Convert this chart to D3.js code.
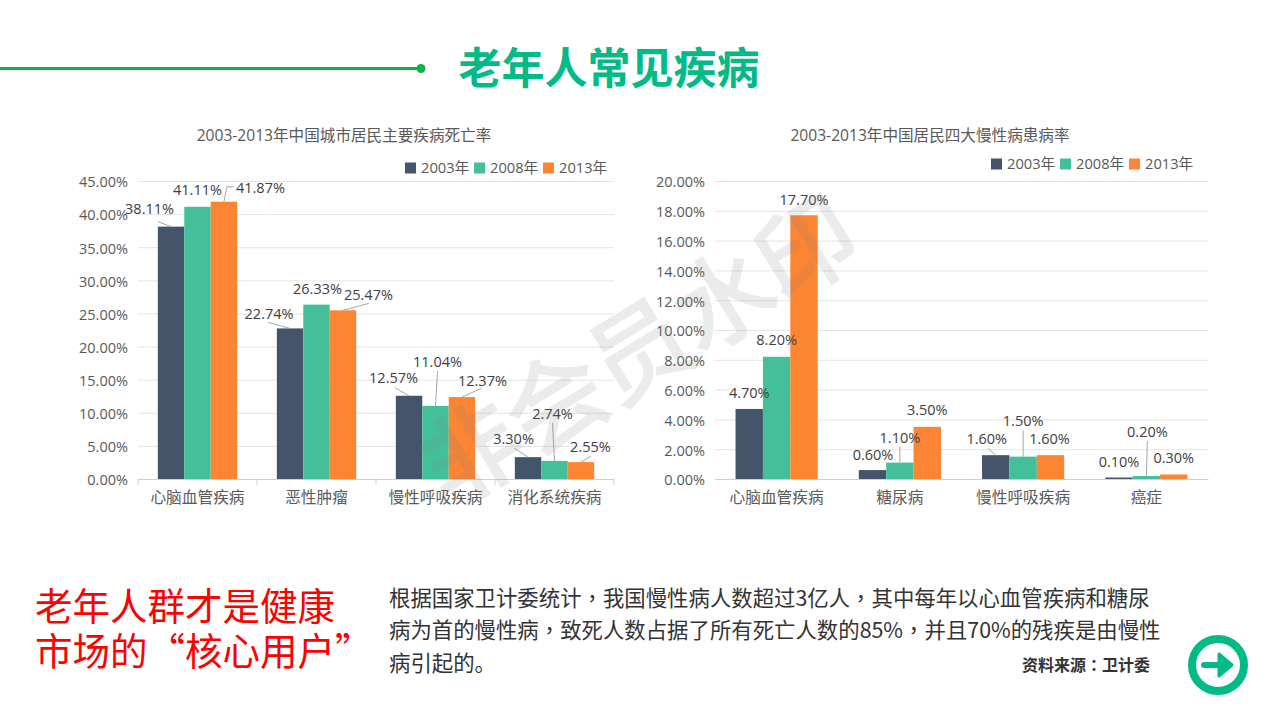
<!DOCTYPE html>
<html>
<head>
<meta charset="utf-8">
<script src="https://cdn.jsdelivr.net/npm/d3@7"></script>
<style>
html, body { margin: 0; padding: 0; background: #fff; }
svg { display: block; }
text { font-family: 'Open Sans', 'Noto Sans CJK SC', sans-serif; }
</style>
</head>
<body>
<div id="chart"></div>
<script>
const w = 1280;
const h = 720;

const years = ['2003年', '2008年', '2013年'];
const colors = ['#44546a', '#43c09a', '#fb8533'];

const deathCategories = ['心脑血管疾病', '恶性肿瘤', '慢性呼吸疾病', '消化系统疾病'];
const death2003 = [38.11, 22.74, 12.57, 3.30];
const death2008 = [41.11, 26.33, 11.04, 2.74];
const death2013 = [41.87, 25.47, 12.37, 2.55];
const deathTicks = [0, 5, 10, 15, 20, 25, 30, 35, 40, 45];

const illCategories = ['心脑血管疾病', '糖尿病', '慢性呼吸疾病', '癌症'];
const ill2003 = [4.70, 0.60, 1.60, 0.10];
const ill2008 = [8.20, 1.10, 1.50, 0.20];
const ill2013 = [17.70, 3.50, 1.60, 0.30];
const illTicks = [0, 2, 4, 6, 8, 10, 12, 14, 16, 18, 20];

// label offsets from the top centre of each bar, one row per year
const deathLabelPos = [
	[[-21.5, -18.6], [-21, -15.4], [-15.5, -18], [-14.5, -19]],
	[[0, -17], [1, -16.6], [2, -44], [-2, -47]],
	[[36.5, -14], [25.5, -16], [20.5, -17], [9.5, -16]],
];
const deathLeaders = [
	[[[-13, -5]], [[-22, -6]], [[-14, -8]], [[-14, -9]]],
	[null, null, [[2, -35]], [[-2, -38]]],
	[[[3, -15], [10, -15]], [[26, -7]], [[20, -9]], [[10, -6]]],
];
const illLabelPos = [
	[[0, -16], [0.5, -16], [-9, -17], [0, -16.5]],
	[[0, -17], [0, -25], [0, -36], [1, -45]],
	[[0, -16], [0, -17], [-1, -17], [0, -17.5]],
];
const illLeaders = [
	[null, null, [[-8, -7]], null],
	[null, [[0, -16]], [[0, -26]], [[1, -35]]],
	[null, null, null, null],
];

const svg = d3
	.select('#chart')
	.append('svg')
	.attr('width', w)
	.attr('height', h)
	.attr('viewBox', `0 0 ${w} ${h}`);

function drawChart(opt) {
	const x = d3.scaleBand().domain(opt.categories).range([opt.left, opt.right]);
	const y = d3.scaleLinear().domain([0, opt.max]).range([479, 181]);
	const barWidth = x.bandwidth() / 4.5;
	const x1 = d3
		.scaleBand()
		.domain(d3.range(3))
		.range([x.bandwidth() / 2 - barWidth * 1.5, x.bandwidth() / 2 + barWidth * 1.5]);

	svg
		.append('text')
		.attr('x', opt.titleX)
		.attr('y', 135.5)
		.attr('dy', '0.35em')
		.attr('text-anchor', 'middle')
		.style('font-size', '15.6px')
		.attr('fill', '#595959')
		.text(opt.title);

	const yAxis = d3
		.axisLeft(y)
		.tickValues(opt.ticks)
		.tickSize(opt.left - opt.right)
		.tickPadding(10)
		.tickFormat(d => d.toFixed(2) + '%');

	const yG = svg.append('g').attr('transform', `translate(${opt.left},0)`).call(yAxis);
	yG.select('.domain').remove();
	yG.selectAll('line').attr('stroke', '#e4e4e4');
	yG.selectAll('text').attr('fill', '#595959').attr('dy', '0.4em').style('font-size', '14.5px');

	const xAxis = d3.axisBottom(x).tickSize(0).tickPadding(13);
	const xG = svg.append('g').attr('transform', 'translate(0,479)').call(xAxis);
	xG.select('.domain').attr('stroke', '#d0d0d0');
	xG.selectAll('text')
		.attr('fill', '#595959')
		.style('font-size', '15.7px')
		.style('font-family', "'Noto Sans CJK SC', sans-serif");

	if (opt.edgeTicks) {
		svg
			.append('g')
			.selectAll('line')
			.data(d3.range(5))
			.enter()
			.append('line')
			.attr('x1', i => opt.left + x.step() * i)
			.attr('x2', i => opt.left + x.step() * i)
			.attr('y1', 479)
			.attr('y2', 485)
			.attr('stroke', '#d0d0d0');
	}

	opt.series.forEach((values, s) => {
		svg
			.append('g')
			.selectAll('rect')
			.data(values)
			.enter()
			.append('rect')
			.attr('x', (d, i) => x(opt.categories[i]) + x1(s))
			.attr('y', d => y(d))
			.attr('width', x1.bandwidth())
			.attr('height', d => y(0) - y(d))
			.attr('fill', colors[s]);
	});

	opt.series.forEach((values, s) => {
		values.forEach((d, i) => {
			const cx = x(opt.categories[i]) + x1(s) + x1.bandwidth() / 2;
			const cy = y(d);
			const leader = opt.leaders[s][i];
			if (leader) {
				const pts = [[cx, cy]].concat(leader.map(p => [cx + p[0], cy + p[1]]));
				svg
					.append('path')
					.attr('d', d3.line()(pts))
					.attr('fill', 'none')
					.attr('stroke', '#a6a6a6');
			}
			svg
				.append('text')
				.attr('x', cx + opt.labelPos[s][i][0])
				.attr('y', cy + opt.labelPos[s][i][1])
				.attr('dy', '0.38em')
				.attr('text-anchor', 'middle')
				.attr('fill', '#404040')
				.style('font-size', '14.5px')
				.text(d.toFixed(2) + '%');
		});
	});

	// legend
	const legend = svg.append('g').attr('transform', `translate(${opt.legendX},${opt.legendY})`);
	years.forEach((yr, i) => {
		legend
			.append('rect')
			.attr('x', i * 69)
			.attr('y', -5.5)
			.attr('width', 11)
			.attr('height', 11)
			.attr('fill', colors[i]);
		legend
			.append('text')
			.attr('x', i * 69 + 16)
			.attr('dy', '0.35em')
			.attr('fill', '#595959')
			.style('font-size', '14.7px')
			.text(yr);
	});
}

drawChart({
	title: '2003-2013年中国城市居民主要疾病死亡率',
	titleX: 344,
	categories: deathCategories,
	series: [death2003, death2008, death2013],
	ticks: deathTicks,
	max: 45,
	left: 138,
	right: 614,
	legendX: 405,
	legendY: 168,
	labelPos: deathLabelPos,
	leaders: deathLeaders,
	edgeTicks: true,
});

drawChart({
	title: '2003-2013年中国居民四大慢性病患病率',
	titleX: 930,
	categories: illCategories,
	series: [ill2003, ill2008, ill2013],
	ticks: illTicks,
	max: 20,
	left: 715,
	right: 1208,
	legendX: 991,
	legendY: 164,
	labelPos: illLabelPos,
	leaders: illLeaders,
	edgeTicks: false,
});

const cjk = "'Noto Sans CJK SC', sans-serif";

// watermark
svg
	.append('text')
	.attr('transform', 'translate(640,352) rotate(-31.5)')
	.attr('text-anchor', 'middle')
	.attr('dy', '0.35em')
	.attr('fill', '#808080')
	.attr('stroke', '#808080')
	.attr('stroke-width', 2.5)
	.attr('opacity', 0.15)
	.style('font-family', cjk)
	.style('font-size', '98px')
	.text('非会员水印');

// page header
svg
	.append('line')
	.attr('x1', 0)
	.attr('x2', 421)
	.attr('y1', 68.5)
	.attr('y2', 68.5)
	.attr('stroke', '#0db14b')
	.attr('stroke-width', 3);
svg.append('circle').attr('cx', 421).attr('cy', 68.5).attr('r', 4.5).attr('fill', '#0db14b');
svg
	.append('text')
	.attr('x', 609)
	.attr('y', 69)
	.attr('dy', '0.35em')
	.attr('text-anchor', 'middle')
	.attr('fill', '#00bb85')
	.style('font-family', cjk)
	.style('font-weight', 700)
	.style('font-size', '43px')
	.text('老年人常见疾病');

// bottom text
[['老年人群才是健康', 607], ['市场的“核心用户”', 652]].forEach(d => {
	svg
		.append('text')
		.attr('x', 35)
		.attr('y', d[1])
		.attr('dy', '0.35em')
		.attr('fill', '#fe0000')
		.style('font-family', cjk)
		.style('font-size', '37.5px')
		.text(d[0]);
});

// the source deck centres its ， and ： so those glyphs come from the TC font
function addCentredPunct(sel, str) {
	str.split(/([，：])/).forEach(part => {
		const span = sel.append('tspan').text(part);
		if (part === '，' || part === '：') span.style('font-family', "'Noto Sans CJK TC', sans-serif");
	});
}

[
	['根据国家卫计委统计，我国慢性病人数超过3亿人，其中每年以心血管疾病和糖尿', 599],
	['病为首的慢性病，致死人数占据了所有死亡人数的85%，并且70%的残疾是由慢性', 631],
	['病引起的。', 664],
].forEach(d => {
	const t = svg
		.append('text')
		.attr('x', 389)
		.attr('y', d[1])
		.attr('dy', '0.35em')
		.attr('fill', '#333')
		.style('font-family', cjk)
		.style('font-size', '21.4px');
	addCentredPunct(t, d[0]);
});

const source = svg
	.append('text')
	.attr('x', 1022)
	.attr('y', 665)
	.attr('dy', '0.35em')
	.attr('fill', '#333')
	.style('font-family', cjk)
	.style('font-weight', 700)
	.style('font-size', '16px');
addCentredPunct(source, '资料来源：卫计委');

// next arrow button
const btn = svg.append('g').attr('transform', 'translate(1218,665)');
btn
	.append('circle')
	.attr('r', 26)
	.attr('fill', 'none')
	.attr('stroke', '#00bb85')
	.attr('stroke-width', 8);
btn
	.append('path')
	.attr('d', 'M-14,0H6')
	.attr('stroke', '#00bb85')
	.attr('stroke-width', 6)
	.attr('stroke-linecap', 'round');
btn
	.append('path')
	.attr('d', 'M1,-11L14,0L1,11Z')
	.attr('fill', '#00bb85')
	.attr('stroke', '#00bb85')
	.attr('stroke-width', 3)
	.attr('stroke-linejoin', 'round');
</script>
</body>
</html>
